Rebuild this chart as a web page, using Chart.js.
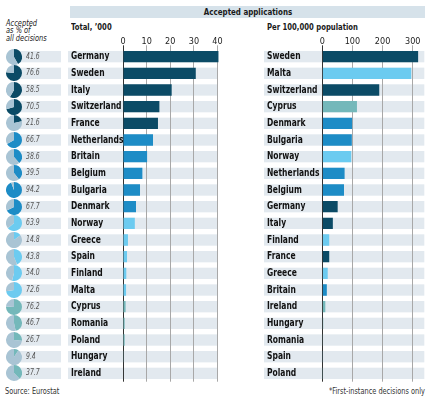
<!DOCTYPE html>
<html>
<head>
<meta charset="utf-8">
<script src="https://cdn.jsdelivr.net/npm/chart.js@4.4.1/dist/chart.umd.min.js"></script>
<style>
  body { margin: 0; width: 432px; height: 399px; position: relative; overflow: hidden; background: #fff;
         font-family: 'DejaVu Sans Condensed', sans-serif; color: #1a1a1a; }
  canvas.layer { position: absolute; left: 0; top: 0; }
  canvas.pie { position: absolute; }
  .t { position: absolute; white-space: nowrap; transform-origin: 0 50%; }
  #band { position: absolute; left: 70px; top: 6px; width: 355px; height: 12px; background: #d6e2ea; }
  #band span { position: absolute; left: 50%; top: 0; font-weight: bold; font-size: 9.5px; line-height: 12px;
               white-space: nowrap; transform: translateX(-50%) scaleX(0.83); }
  .sub { font-weight: bold; font-size: 9px; top: 21px; line-height: 12px; transform: scaleX(0.85); }
  #note { left: 6px; top: 19.5px; font-style: italic; font-size: 9px; line-height: 7.8px; transform: scaleX(0.82); transform-origin: 0 0; }
  .pct { font-style: italic; font-size: 8px; color: #555; left: 26px; line-height: 12px; transform: scaleX(0.85); }
  .foot { top: 386px; font-size: 8.5px; line-height: 11px; color: #333; transform: scaleX(0.86); }
</style>
</head>
<body>
<div id="band"><span>Accepted applications</span></div>
<div class="t sub" style="left:71px">Total, ’000</div>
<div class="t sub" style="left:267px">Per 100,000 population</div>
<div class="t" id="note">Accepted<br>as % of<br>all decisions</div>
<div class="t foot" style="left:5px">Source: Eurostat</div>
<div class="t foot" style="left:329px">*First-instance decisions only</div>
<canvas id="totalChart" class="layer" width="432" height="399"></canvas>
<canvas id="perCapChart" class="layer" width="432" height="399"></canvas>
<script>
// Left panel: total accepted applications, '000
const totalCountries = ['Germany', 'Sweden', 'Italy', 'Switzerland', 'France', 'Netherlands', 'Britain', 'Belgium',
  'Bulgaria', 'Denmark', 'Norway', 'Greece', 'Spain', 'Finland', 'Malta', 'Cyprus', 'Romania', 'Poland', 'Hungary', 'Ireland'];
const totalValues = [40.4, 30.8, 20.6, 15.4, 14.8, 12.7, 10.2, 8.2, 7.2, 5.5, 5.0, 2.1, 1.7, 1.4, 1.3, 1.1, 0.7, 0.7, 0.3, 0.2];
const acceptedPct = [41.6, 76.6, 58.5, 70.5, 21.6, 66.7, 38.6, 39.5, 94.2, 67.7, 63.9, 14.8, 43.8, 54.0, 72.6, 76.2, 46.7, 26.7, 9.4, 37.7];
const totalTicks = [0, 10, 20, 30, 40];

// Right panel: per 100,000 population
const perCapCountries = ['Sweden', 'Malta', 'Switzerland', 'Cyprus', 'Denmark', 'Bulgaria', 'Norway', 'Netherlands', 'Belgium',
  'Germany', 'Italy', 'Finland', 'France', 'Greece', 'Britain', 'Ireland', 'Hungary', 'Romania', 'Spain', 'Poland'];
const perCapValues = [318, 295, 189, 115, 99, 98, 96, 74, 72, 51, 35, 23, 23, 18, 15, 10, 3, 1, 1, 0.6];
const perCapTicks = [0, 100, 200, 300];

const FONT = "'DejaVu Sans Condensed', sans-serif";
const groupColors = ['#0b4b66', '#1d8cc6', '#6ccbf0', '#74b8ba'];
const stripeColor = '#e2e9ef';
const pieRest = '#a9c4d4';

// colour follows the country's block of five in the total ranking
const colorOf = name => groupColors[Math.floor(totalCountries.indexOf(name) / 5)];

const stripes = {
  id: 'stripes',
  beforeDraw(chart, args, opts) {
    const { ctx, chartArea, scales: { y } } = chart;
    const bh = (y.getPixelForValue(1) - y.getPixelForValue(0)) * 0.68;
    ctx.save();
    ctx.fillStyle = stripeColor;
    chart.data.labels.forEach((l, i) => {
      const py = y.getPixelForValue(i);
      ctx.fillRect(y.left - 3, py - bh / 2, chartArea.right - y.left + 2, bh);
      if (opts.extra) ctx.fillRect(opts.extra[0], py - bh / 2, opts.extra[1] - opts.extra[0], bh);
    });
    ctx.restore();
  }
};

// the original uses a narrow face; squeeze the country names horizontally
function squeezeLabels(s, k) {
  if (s.$squeezed) return;
  s.$squeezed = true;
  const draw = s.drawLabels;
  s.drawLabels = function (area) {
    const ctx = this.ctx, r = this.right;
    ctx.save();
    ctx.translate(this.left, 0);
    ctx.scale(k, 1);
    ctx.translate(-this.left, 0);
    this.right = this.left + (r - this.left) / k;
    draw.call(this, area);
    this.right = r;
    ctx.restore();
  };
}

function barChart(id, labels, values, ticks, o) {
  return new Chart(document.getElementById(id), {
    type: 'bar',
    data: {
      labels: labels,
      datasets: [{
        data: values,
        backgroundColor: labels.map(colorOf),
        barPercentage: 1,
        categoryPercentage: 0.68
      }]
    },
    options: {
      indexAxis: 'y',
      responsive: false,
      animation: false,
      events: [],
      layout: { padding: { left: o.left, right: o.right, top: 28.3, bottom: 17.3 } },
      scales: {
        x: {
          position: 'top',
          min: 0,
          max: o.max,
          afterBuildTicks: s => { s.ticks = ticks.map(v => ({ value: v })); },
          afterFit: s => { s.height = 20; },
          grid: {
            color: c => (c.tick && c.tick.value === 0) ? '#333' : '#a8a8a8',
            lineWidth: 1,
            tickLength: 3
          },
          border: { display: false },
          ticks: { font: { family: FONT, size: 9 }, color: '#222', padding: -1.5 }
        },
        y: {
          afterFit: s => { s.width = o.labelWidth; squeezeLabels(s, 0.86); },
          grid: { display: false },
          border: { display: false },
          ticks: { crossAlign: 'far', font: { family: FONT, size: 9.8, weight: 'bold' }, color: '#111', padding: 0 }
        }
      },
      plugins: {
        legend: { display: false },
        tooltip: { enabled: false },
        stripes: { extra: o.extra }
      }
    },
    plugins: [stripes]
  });
}

const totalChart = barChart('totalChart', totalCountries, totalValues, totalTicks,
  { left: 71, right: 213, max: 40.63, labelWidth: 52, extra: [14, 61] });
barChart('perCapChart', perCapCountries, perCapValues, perCapTicks,
  { left: 267, right: 6.7, max: 341.8, labelWidth: 55.3 });

// small pies: share of decisions that were acceptances
const yScale = totalChart.scales.y;
acceptedPct.forEach((p, i) => {
  const py = yScale.getPixelForValue(i);
  const t = document.createElement('div');
  t.className = 't pct';
  t.style.top = (py - 6) + 'px';
  t.textContent = p.toFixed(1);
  document.body.appendChild(t);

  const c = document.createElement('canvas');
  c.className = 'pie';
  c.width = 16; c.height = 16;
  c.style.left = '5.5px';
  c.style.top = (py - 8) + 'px';
  document.body.appendChild(c);
  new Chart(c, {
    type: 'pie',
    data: { datasets: [{ data: [p, 100 - p], backgroundColor: [colorOf(totalCountries[i]), pieRest], borderWidth: 0 }] },
    options: { responsive: false, animation: false, events: [], plugins: { legend: { display: false }, tooltip: { enabled: false } } }
  });
});
</script>
</body>
</html>
